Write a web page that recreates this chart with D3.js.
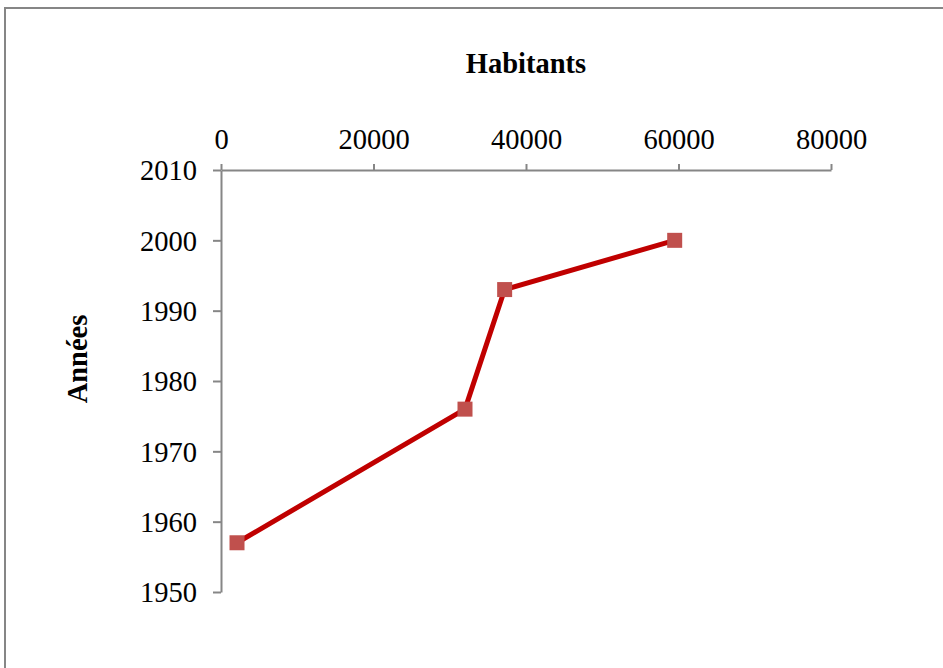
<!DOCTYPE html>
<html>
<head>
<meta charset="utf-8">
<style>
    body { margin: 0; background: #fff; }
    .tick text { font-family: "Liberation Serif", "Times New Roman", serif; font-size: 28.5px; fill: #000; }
    .title { font-family: "Liberation Serif", "Times New Roman", serif; font-size: 28.5px; font-weight: bold; }
</style>
</head>
<body>
<svg width="943" height="668"></svg>
<script src="https://cdn.jsdelivr.net/npm/d3@7"></script>
<script>
    // data
    var habitants = [2100, 32000, 37200, 59500];
    var annees = [1957, 1976, 1993, 2000];
    var xTicks = [0, 20000, 40000, 60000, 80000];
    var yTicks = [1950, 1960, 1970, 1980, 1990, 2000, 2010];

    var svg = d3.select("svg");
    var grey = "#868686";

    // chart frame (right and bottom edges fall outside the picture)
    svg.append("rect")
        .attr("x", 5).attr("y", 8)
        .attr("width", 960).attr("height", 700)
        .attr("fill", "none")
        .attr("stroke", grey)
        .attr("stroke-width", 2);

    var x = d3.scaleLinear().domain([0, 80000]).range([221, 831]);
    var y = d3.scaleLinear().domain([1950, 2010]).range([592, 170]);

    var xAxis = svg.append("g")
        .attr("transform", "translate(0," + y(2010) + ")")
        .call(d3.axisTop(x).tickValues(xTicks).tickFormat(d3.format("d")).tickSize(6).tickSizeOuter(0).tickPadding(15));

    var yAxis = svg.append("g")
        .attr("transform", "translate(" + x(0) + ",0)")
        .call(d3.axisLeft(y).tickValues(yTicks).tickFormat(d3.format("d")).tickSize(8).tickSizeOuter(0).tickPadding(16));

    svg.selectAll(".domain, .tick line")
        .attr("stroke", grey)
        .attr("stroke-width", 2);
    yAxis.selectAll(".tick text").attr("dy", "0.35em");

    svg.append("text")
        .attr("class", "title")
        .attr("x", (x(0) + x(80000)) / 2)
        .attr("y", 73)
        .attr("text-anchor", "middle")
        .text("Habitants");

    svg.append("text")
        .attr("class", "title")
        .attr("transform", "translate(87,359) rotate(-90)")
        .attr("text-anchor", "middle")
        .text("Années");

    var pts = habitants.map(function(h, i) { return [h, annees[i]]; });

    svg.append("path")
        .datum(pts)
        .attr("fill", "none")
        .attr("stroke", "#c00000")
        .attr("stroke-width", 5)
        .attr("stroke-linejoin", "round")
        .attr("d", d3.line().x(function(d) { return x(d[0]); }).y(function(d) { return y(d[1]); }));

    svg.selectAll("rect.pt")
        .data(pts)
        .enter().append("rect")
        .attr("class", "pt")
        .attr("x", function(d) { return x(d[0]) - 7.5; })
        .attr("y", function(d) { return y(d[1]) - 7.5; })
        .attr("width", 15)
        .attr("height", 15)
        .attr("fill", "#c0504d");
</script>
</body>
</html>
